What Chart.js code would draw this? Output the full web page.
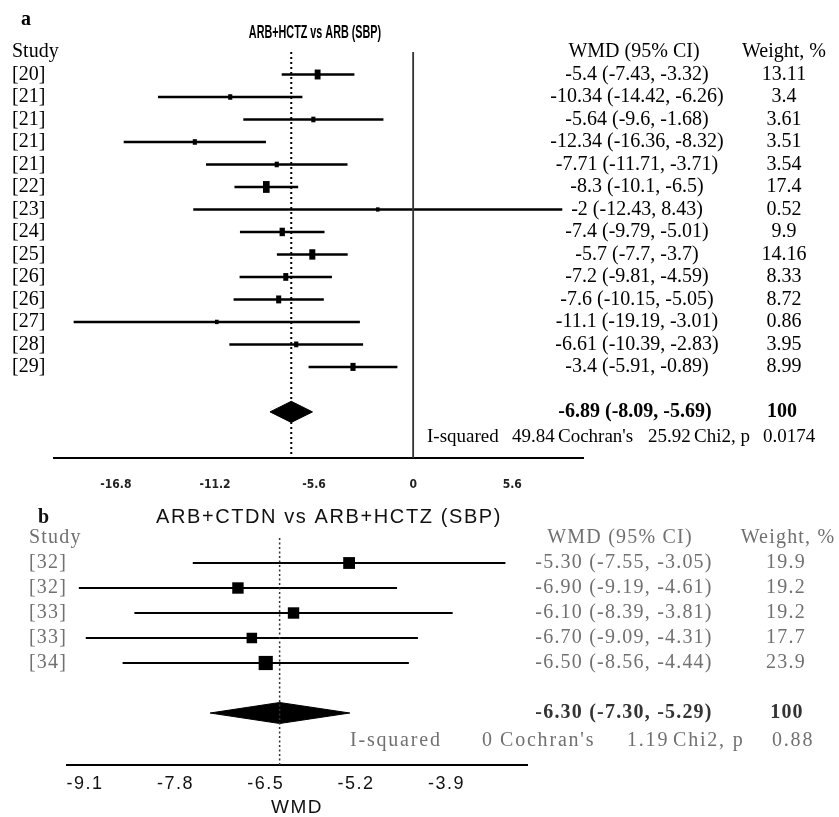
<!DOCTYPE html>
<html>
<head>
<meta charset="utf-8">
<script src="https://cdn.jsdelivr.net/npm/chart.js@4.4.1/dist/chart.umd.min.js"></script>
<style>
  html, body { margin: 0; padding: 0; background: #fff; }
  #wrap { position: relative; width: 839px; height: 817px; }
  #chartA { position: absolute; left: 0; top: 0; }
  #chartB { position: absolute; left: 0; top: 490px; }
</style>
</head>
<body>
<div id="wrap">
  <canvas id="chartA" width="839" height="490"></canvas>
  <canvas id="chartB" width="839" height="327"></canvas>
</div>
<script>
// ====================== DATA: panel a ======================
const studiesA = ['[20]', '[21]', '[21]', '[21]', '[21]', '[22]', '[23]', '[24]', '[25]', '[26]', '[26]', '[27]', '[28]', '[29]'];
const wmdA    = [-5.4, -10.34, -5.64, -12.34, -7.71, -8.3, -2, -7.4, -5.7, -7.2, -7.6, -11.1, -6.61, -3.4];
const lowA    = [-7.43, -14.42, -9.6, -16.36, -11.71, -10.1, -12.43, -9.79, -7.7, -9.81, -10.15, -19.19, -10.39, -5.91];
const highA   = [-3.32, -6.26, -1.68, -8.32, -3.71, -6.5, 8.43, -5.01, -3.7, -4.59, -5.05, -3.01, -2.83, -0.89];
const weightA = [13.11, 3.4, 3.61, 3.51, 3.54, 17.4, 0.52, 9.9, 14.16, 8.33, 8.72, 0.86, 3.95, 8.99];
const pooledA = [-6.89, -8.09, -5.69];   // estimate, low, high
const hetA    = [49.84, 25.92, 0.0174];  // I-squared, Cochran's, Chi2 p
const ticksA  = [-16.8, -11.2, -5.6, 0, 5.6];

// ====================== DATA: panel b ======================
const studiesB = ['[32]', '[32]', '[33]', '[33]', '[34]'];
const wmdB    = [-5.30, -6.90, -6.10, -6.70, -6.50];
const lowB    = [-7.55, -9.19, -8.39, -9.09, -8.56];
const highB   = [-3.05, -4.61, -3.81, -4.31, -4.44];
const weightB = [19.9, 19.2, 19.2, 17.7, 23.9];
const pooledB = [-6.30, -7.30, -5.29];
const hetB    = [0, 1.19, 0.88];
const ticksB  = [-9.1, -7.8, -6.5, -5.2, -3.9];

const SERIF = '"Liberation Serif", "Times New Roman", serif';
const SANS = '"Liberation Sans", Arial, sans-serif';

// ====================== HELPERS ======================
function segment(x1, y1, x2, y2, opts) {
  return Object.assign({
    type: 'scatter', showLine: true, pointRadius: 0, pointHoverRadius: 0,
    data: [{x: x1, y: y1}, {x: x2, y: y2}],
    borderColor: '#000', borderWidth: 2, fill: false
  }, opts);
}

function forestDatasets(p) {
  const ds = [];
  const summaryRow = p.est.length + 2;
  if (p.zeroLine) ds.push(segment(0, 0, 0, p.yMax, {borderColor: '#333', borderWidth: 1.8}));
  ds.push(segment(p.pooled[0], 0, p.pooled[0], p.yMax, {borderColor: p.dotColor, borderWidth: p.dotWidth, borderDash: p.dash}));
  p.est.forEach((e, i) => ds.push(segment(p.low[i], i + 1, p.high[i], i + 1, {borderWidth: p.ciWidth})));
  ds.push(Object.assign({
    type: 'scatter',
    data: p.est.map((e, i) => ({x: e, y: i + 1})),
    backgroundColor: '#000', borderColor: '#000'
  }, p.marker));
  const [m, l, h] = p.pooled;
  ds.push({
    type: 'scatter', showLine: true, pointRadius: 0,
    data: [{x: l, y: summaryRow}, {x: m, y: summaryRow - p.dh}, {x: h, y: summaryRow},
           {x: m, y: summaryRow + p.dh}, {x: l, y: summaryRow}],
    borderColor: '#000', borderWidth: 1, backgroundColor: '#000', fill: 'shape'
  });
  return ds;
}

function baseOptions(p) {
  return {
    responsive: false,
    animation: false,
    layout: {padding: p.padding},
    plugins: {legend: {display: false}, tooltip: {enabled: false}},
    scales: {
      x: {
        type: 'linear', min: p.xMin, max: p.xMax,
        afterBuildTicks: s => { s.ticks = p.ticks.map(v => ({value: v})); },
        afterFit: s => { s.height = p.axisHeight; },
        grid: {display: false, drawTicks: false},
        border: {display: true, color: '#000', width: 2},
        ticks: {autoSkip: false, maxRotation: 0, padding: p.tickPad, color: p.tickColor,
                font: p.tickFont, callback: v => String(v)},
        title: p.title
      },
      y: {type: 'linear', display: false, reverse: true, min: 0, max: p.yMax}
    }
  };
}

// ====================== PANEL A ======================
const yMaxA = 18.05;
const textA = {
  id: 'textA',
  afterDraw(chart) {
    const {ctx, scales: {y}} = chart;
    const row = r => y.getPixelForValue(r);
    ctx.save();
    ctx.fillStyle = '#000';
    ctx.font = 'bold 20px ' + SERIF;
    ctx.textAlign = 'left';
    ctx.textBaseline = 'alphabetic';
    ctx.fillText('a', 21, 25);

    // condensed bold title
    ctx.save();
    ctx.translate(315, 33);
    ctx.scale(0.6, 1);
    ctx.font = 'bold 18px ' + SANS;
    ctx.textAlign = 'center';
    ctx.textBaseline = 'middle';
    ctx.fillText('ARB+HCTZ vs ARB (SBP)', 0, 0);
    ctx.restore();

    ctx.textBaseline = 'middle';
    ctx.font = '20px ' + SERIF;
    ctx.textAlign = 'left';
    ctx.fillText('Study', 12, row(0));
    studiesA.forEach((s, i) => ctx.fillText(s, 12, row(i + 1)));

    ctx.textAlign = 'center';
    ctx.fillText('WMD (95% CI)', 634, row(0));
    ctx.fillText('Weight, %', 784, row(0));
    wmdA.forEach((e, i) => {
      ctx.fillText(`${e} (${lowA[i]}, ${highA[i]})`, 637, row(i + 1));
      ctx.fillText(String(weightA[i]), 784, row(i + 1));
    });

    ctx.font = 'bold 20px ' + SERIF;
    ctx.fillText(`${pooledA[0]} (${pooledA[1]}, ${pooledA[2]})`, 635, row(studiesA.length + 2));
    ctx.fillText('100', 782, row(studiesA.length + 2));

    ctx.font = '19px ' + SERIF;
    ctx.textAlign = 'left';
    const yh = row(studiesA.length + 3.1);
    [['I-squared', 427], [String(hetA[0]), 512], ["Cochran's", 558],
     [String(hetA[1]), 648], ['Chi2, p', 694], [String(hetA[2]), 763]]
      .forEach(([t, x]) => ctx.fillText(t, x, yh));
    ctx.restore();
  }
};

new Chart(document.getElementById('chartA'), {
  type: 'scatter',
  data: {
    datasets: forestDatasets({
      est: wmdA, low: lowA, high: highA, pooled: pooledA, yMax: yMaxA,
      zeroLine: true, dotColor: '#000', dotWidth: 2, dash: [2, 3], ciWidth: 2.5, dh: 0.47,
      marker: {
        pointStyle: 'line', rotation: 90,
        pointRadius: weightA.map(w => (4 + w * 0.45) / 2),
        pointBorderWidth: weightA.map(w => 3.5 + w * 0.18)
      }
    })
  },
  options: baseOptions({
    padding: {left: 54, right: 256, top: 52, bottom: 2},
    xMin: -20.3, xMax: 9.6, ticks: ticksA, axisHeight: 30, yMax: yMaxA,
    tickPad: 20, tickColor: '#222',
    tickFont: {family: '"DejaVu Sans Condensed", "Liberation Sans Narrow", sans-serif', size: 12, weight: 'bold'},
    title: {display: false}
  }),
  plugins: [textA]
});

// ====================== PANEL B ======================
const yMaxB = 9.08;
const textB = {
  id: 'textB',
  beforeDraw(chart) { chart.ctx.letterSpacing = '1.5px'; },
  afterDraw(chart) {
    const {ctx, scales: {y}} = chart;
    const row = r => y.getPixelForValue(r);
    ctx.save();
    ctx.letterSpacing = '0px';
    ctx.fillStyle = '#111';
    ctx.font = 'bold 20px ' + SERIF;
    ctx.textBaseline = 'alphabetic';
    ctx.textAlign = 'left';
    ctx.fillText('b', 38, 33);

    ctx.letterSpacing = '1.6px';
    ctx.font = '20px ' + SANS;
    ctx.textAlign = 'center';
    ctx.textBaseline = 'middle';
    ctx.fillText('ARB+CTDN vs ARB+HCTZ (SBP)', 329, 27);

    ctx.letterSpacing = '1.2px';
    ctx.fillStyle = '#707070';
    ctx.font = '20px ' + SERIF;
    ctx.textAlign = 'left';
    ctx.fillText('Study', 29, row(0));
    studiesB.forEach((s, i) => ctx.fillText(s, 29, row(i + 1)));

    ctx.textAlign = 'center';
    ctx.fillText('WMD (95% CI)', 620, row(0));
    ctx.fillText('Weight, %', 788, row(0));
    wmdB.forEach((e, i) => {
      ctx.fillText(`${e.toFixed(2)} (${lowB[i].toFixed(2)}, ${highB[i].toFixed(2)})`, 624, row(i + 1));
      ctx.fillText(weightB[i].toFixed(1), 786, row(i + 1));
    });

    ctx.fillStyle = '#333';
    ctx.font = 'bold 20px ' + SERIF;
    const rs = studiesB.length + 2;
    ctx.fillText(`${pooledB[0].toFixed(2)} (${pooledB[1].toFixed(2)}, ${pooledB[2].toFixed(2)})`, 624, row(rs));
    ctx.fillText('100', 787, row(rs));

    ctx.fillStyle = '#707070';
    ctx.font = '20px ' + SERIF;
    ctx.textAlign = 'left';
    ctx.letterSpacing = '1.8px';
    const yh = row(rs + 1.1);
    [['I-squared', 350], [String(hetB[0]), 482], ["Cochran's", 500],
     [String(hetB[1]), 627], ['Chi2, p', 673], [String(hetB[2]), 772]]
      .forEach(([t, x]) => ctx.fillText(t, x, yh));
    ctx.restore();
  }
};

new Chart(document.getElementById('chartB'), {
  type: 'scatter',
  data: {
    datasets: forestDatasets({
      est: wmdB, low: lowB, high: highB, pooled: pooledB, yMax: yMaxB,
      zeroLine: false, dotColor: '#333', dotWidth: 1.5, dash: [2, 2.5], ciWidth: 2, dh: 0.42,
      marker: {
        pointStyle: 'rect', pointBorderWidth: 0,
        pointRadius: weightB.map(w => w * 0.42)
      }
    })
  },
  options: baseOptions({
    padding: {left: 67, right: 312, top: 48, bottom: 0},
    xMin: -9.36, xMax: -2.74, ticks: ticksB, axisHeight: 52, yMax: yMaxB,
    tickPad: 8, tickColor: '#111',
    tickFont: {family: SANS, size: 18},
    title: {display: true, text: 'WMD', color: '#111', padding: {top: 0, bottom: 0},
            font: {family: SANS, size: 19, lineHeight: 1}}
  }),
  plugins: [textB]
});
</script>
</body>
</html>
